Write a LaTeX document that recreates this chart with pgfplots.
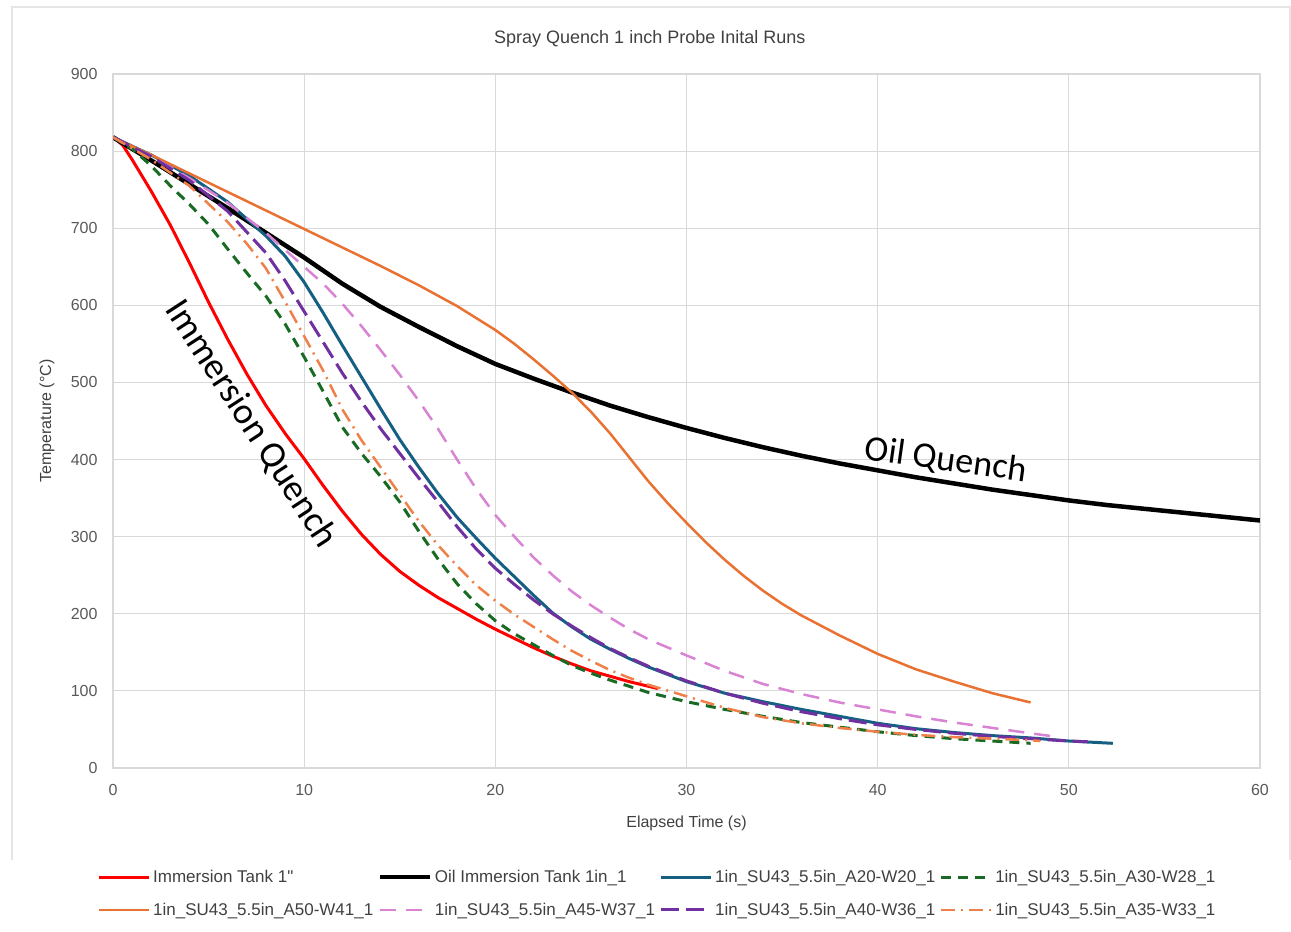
\documentclass[border=0pt]{standalone}
\usepackage{pgfplots}
\pgfplotsset{compat=1.18}
\usepackage{fontspec}
\setmainfont{Liberation Sans}
\newfontfamily\qfont{Liberation Sans}[Ligatures=TeXOff]
\newfontfamily\annfont{Carlito}
\definecolor{ctick}{HTML}{595959}
\definecolor{ctext}{HTML}{404040}
\definecolor{gridc}{HTML}{D9D9D9}
\definecolor{cblue}{HTML}{156082}
\definecolor{cgreen}{HTML}{196B24}
\definecolor{corange}{HTML}{E97132}
\definecolor{cpink}{HTML}{D883D3}
\definecolor{cpurple}{HTML}{7030A0}
\definecolor{corange2}{HTML}{F0804A}
\begin{document}
\begin{tikzpicture}[x=1pt,y=1pt]
\useasboundingbox (0,0) rectangle (1291,932);
\draw[gray!20, line width=1.5pt] (12,72) -- (12,925) -- (1290,925) -- (1290,72);
\begin{axis}[
  at={(113pt,164pt)}, anchor=south west, scale only axis,
  width=1147pt, height=694pt,
  xmin=0, xmax=60, ymin=0, ymax=900,
  xtick={0,10,...,60}, ytick={0,100,...,900},
  grid=major, major grid style={color=gridc, line width=1.2pt},
  axis line style={gridc, line width=1.2pt},
  tick style={draw=none},
  /pgf/number format/assume math mode=true,
  ticklabel style={font=\fontsize{16}{19}\selectfont, text=ctick},
  xticklabel style={yshift=-13pt},
  yticklabel style={xshift=-12pt},
  xlabel={Elapsed Time (s)}, ylabel={Temperature (°C)},
  xlabel style={at={(axis description cs:0.5,-0.0793)}, anchor=center, font=\fontsize{16}{19}\selectfont, text=ctext},
  ylabel style={at={(axis description cs:-0.0575,0.5)}, anchor=center, font=\fontsize{16}{19}\selectfont, text=ctext},
  title={Spray Quench 1 inch Probe Inital Runs},
  title style={at={(axis description cs:0.468,1.0418)}, anchor=center, font=\fontsize{18}{22}\selectfont, text=ctext},
  legend columns=4,
  legend image code/.code={\draw[#1] (0pt,0pt) -- (50pt,0pt);},
  legend style={at={(axis description cs:-0.014,-0.1441)}, anchor=north west, draw=none, fill=none,
    font=\fontsize{17}{20}\selectfont, text=ctext, inner sep=0pt, row sep=15pt,
    /tikz/every even column/.append style={column sep=2pt},
    /tikz/every odd column/.append style={column sep=1pt}},
  legend cell align=left,
  every axis plot/.append style={line join=round},
]
\addplot[color=red, line width=3pt] coordinates {(0,818)(0.5,808)(1,789)(2,748)(3,704)(4,655)(5,604)(6,556)(7,511)(8,470)(9,434)(10,401)(11,366)(12,333)(13,303)(14,277)(15,255)(16,237)(17,221)(18,207)(19,193)(20,180)(21,168)(22,156)(23,145)(24,135)(25,126)(26,119)(27,112)(28,106)(28.5,103)};
\addlegendentry{Immersion Tank 1{\qfont"}}
\addplot[color=black, line width=4.5pt] coordinates {(0,818)(2,788)(4,757)(6,726)(8,694)(10,662)(12,628)(14,598)(16,572)(18,547)(20,524)(22,505)(24,487)(26,470)(28,455)(30,441)(32,428)(34,416)(36,405)(38,395)(40,386)(42,377)(44,369)(46,361)(48,354)(50,347)(52,341)(54,336)(56,331)(58,326)(60,321)};
\addlegendentry{Oil Immersion Tank 1in\_1}
\addplot[color=cblue, line width=3pt] coordinates {(0,818)(2,795)(4,768)(6,734)(8,690)(9,664)(10,630)(11,590)(12,548)(13,507)(14,466)(15,426)(16,390)(17,356)(18,325)(19,298)(20,272)(21,248)(22,224)(23,201)(24,183)(25,167)(26,154)(27,142)(28,131)(30,112)(32,97)(34,86)(36,76)(38,67)(40,58)(42,51)(44,46)(46,42)(48,39)(50,35)(52.3,32)};
\addlegendentry{1in\_SU43\_5.5in\_A20-W20\_1}
\addplot[color=cgreen, line width=3pt, dash pattern=on 10pt off 7pt] coordinates {(0,818)(1,803)(2,781)(3,755)(4,731)(5,705)(6,673)(7,642)(8,612)(9,576)(10,533)(11,488)(12,442)(13,408)(14,378)(15,345)(16,307)(17,271)(18,239)(19,213)(20,191)(21,174)(22,160)(23,146)(24,133)(25,123)(26,114)(27,106)(28,98)(30,86)(32,76)(34,67)(36,59)(38,53)(40,47)(42,42)(44,38)(46,35)(48,32)};
\addlegendentry{1in\_SU43\_5.5in\_A30-W28\_1}
\addplot[color=corange, line width=2.5pt] coordinates {(0,818)(2,795)(4,771)(6,747)(8,723)(10,699)(12,675)(14,651)(16,626)(18,599)(20,568)(21,550)(22,530)(23,509)(24,487)(25,462)(26,434)(27,403)(28,372)(29,344)(30,318)(31,293)(32,270)(33,249)(34,230)(35,213)(36,198)(38,172)(40,148)(42,128)(44,112)(46,97)(48,85)};
\addlegendentry{1in\_SU43\_5.5in\_A50-W41\_1}
\addplot[color=cpink, line width=2.5pt, dash pattern=on 16pt off 10pt] coordinates {(0,818)(2,793)(4,765)(6,733)(8,694)(10,650)(11,628)(12,602)(13,573)(14,542)(15,510)(16,476)(17,440)(18,400)(19,362)(20,328)(21,300)(22,273)(23,250)(24,229)(25,211)(26,195)(27,180)(28,167)(30,146)(32,126)(34,109)(36,96)(38,85)(40,76)(42,67)(44,59)(46,52)(48,45)(49.5,40)};
\addlegendentry{1in\_SU43\_5.5in\_A45-W37\_1}
\addplot[color=cpurple, line width=3pt, dash pattern=on 18pt off 7pt] coordinates {(0,818)(2,793)(4,762)(6,722)(8,668)(9,632)(10,592)(11,552)(12,512)(13,475)(14,440)(15,408)(16,376)(17,345)(18,313)(19,284)(20,259)(21,238)(22,218)(23,200)(24,184)(25,169)(26,155)(27,143)(28,132)(30,113)(32,97)(34,84)(36,73)(38,64)(40,56)(42,50)(44,45)(46,41)(48,38)(50,35)(51,34)};
\addlegendentry{1in\_SU43\_5.5in\_A40-W36\_1}
\addplot[color=corange2, line width=2.5pt, dash pattern=on 14pt off 6pt on 2pt off 6pt] coordinates {(0,818)(2,789)(4,755)(6,708)(7,680)(8,648)(9,605)(10,560)(11,515)(12,465)(13,425)(14,390)(15,355)(16,320)(17,289)(18,262)(19,237)(20,217)(21,199)(22,183)(23,167)(24,152)(25,139)(26,127)(27,117)(28,108)(30,93)(32,78)(34,66)(36,58)(38,52)(40,47)(42,43)(44,40)(46,38)(48,36)(48.5,35)};
\addlegendentry{1in\_SU43\_5.5in\_A35-W33\_1}
\node[rotate=-57, font=\annfont\fontsize{37}{44}\selectfont] at (axis cs:7.22,446) {Immersion Quench};
\node[rotate=-8, font=\annfont\fontsize{36}{43}\selectfont] at (axis cs:43.57,399) {Oil Quench};
\end{axis}
\end{tikzpicture}
\end{document}
